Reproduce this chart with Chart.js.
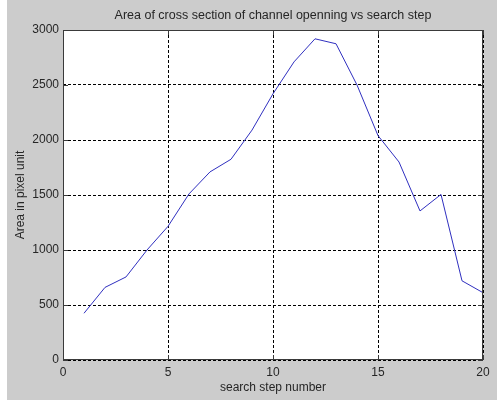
<!DOCTYPE html>
<html>
<head>
<meta charset="utf-8">
<script src="https://cdn.jsdelivr.net/npm/chart.js@4.4.0/dist/chart.umd.min.js"></script>
<style>
  html, body { margin: 0; padding: 0; background: #cccccc; }
  #wrap { width: 497px; height: 400px; }
</style>
</head>
<body>
<div id="wrap"><canvas id="chart" width="497" height="400"></canvas></div>
<script>
// search step number vs area
const steps = [1, 2, 3, 4, 5, 6, 7, 8, 9, 10, 11, 12, 13, 14, 15, 16, 17, 18, 19, 20];
const areas = [425, 660, 755, 1000, 1215, 1510, 1710, 1825, 2090, 2420, 2710, 2920, 2875, 2500, 2040, 1800, 1355, 1505, 720, 612];
const xTicks = [0, 5, 10, 15, 20];
const yTicks = [0, 500, 1000, 1500, 2000, 2500, 3000];

const font = { family: 'Arial, "Liberation Sans", Helvetica, sans-serif', size: 12 };
const textColor = '#262626';

// grey figure, white axes box with inward ticks like matlab
const frame = {
    id: 'frame',
    beforeDraw(chart) {
        const { ctx, chartArea: a } = chart;
        ctx.save();
        ctx.fillStyle = '#cccccc';
        ctx.fillRect(0, 0, chart.width, chart.height);
        ctx.fillStyle = '#ffffff';
        ctx.fillRect(0, 0, 7, chart.height);
        ctx.fillRect(a.left, a.top, a.right - a.left, a.bottom - a.top);
        ctx.restore();
    },
    afterDraw(chart) {
        const { ctx, chartArea: a, scales } = chart;
        ctx.save();
        ctx.strokeStyle = '#3a3a3a';
        ctx.lineWidth = 1;
        ctx.strokeRect(a.left + 0.5, a.top + 0.5, a.right - a.left - 1, a.bottom - a.top - 1);
        ctx.beginPath();
        xTicks.forEach(v => {
            const x = Math.round(scales.x.getPixelForValue(v)) + 0.5;
            ctx.moveTo(x, a.bottom); ctx.lineTo(x, a.bottom - 5);
            ctx.moveTo(x, a.top); ctx.lineTo(x, a.top + 5);
        });
        yTicks.forEach(v => {
            const y = Math.round(scales.y.getPixelForValue(v)) + 0.5;
            ctx.moveTo(a.left, y); ctx.lineTo(a.left + 5, y);
            ctx.moveTo(a.right, y); ctx.lineTo(a.right - 5, y);
        });
        ctx.stroke();
        ctx.restore();
    }
};

new Chart(document.getElementById('chart'), {
    type: 'line',
    data: {
        datasets: [{
            data: steps.map((s, i) => ({ x: s, y: areas[i] })),
            borderColor: '#3030c0',
            borderWidth: 1,
            pointRadius: 0,
            tension: 0,
            fill: false
        }]
    },
    options: {
        responsive: false,
        animation: false,
        layout: { padding: { left: 0, right: 14, top: 0, bottom: 0 } },
        plugins: {
            legend: { display: false },
            tooltip: { enabled: false },
            title: {
                display: true,
                fullSize: false,
                text: 'Area of cross section of channel openning vs search step',
                color: textColor,
                font: { ...font, size: 12.5, weight: 'normal' },
                padding: { top: 8, bottom: 7 }
            }
        },
        scales: {
            x: {
                type: 'linear',
                min: 0,
                max: 20,
                afterFit: s => { s.height = 40; },
                afterBuildTicks: s => { s.ticks = xTicks.map(v => ({ value: v })); },
                ticks: { color: textColor, font, padding: 5, maxRotation: 0, callback: v => String(v) },
                grid: { color: '#000000', lineWidth: 1, drawTicks: false },
                border: { display: false, dash: [3, 2] },
                title: {
                    display: true,
                    text: 'search step number',
                    color: textColor,
                    font,
                    padding: { top: 0, bottom: 5 }
                }
            },
            y: {
                type: 'linear',
                min: 0,
                max: 3000,
                afterFit: s => { s.width = 63; },
                afterBuildTicks: s => { s.ticks = yTicks.map(v => ({ value: v })); },
                ticks: { color: textColor, font, padding: 4, callback: v => String(v) },
                grid: { color: '#000000', lineWidth: 1, drawTicks: false },
                border: { display: false, dash: [3, 2] },
                title: {
                    display: true,
                    text: 'Area in pixel unit',
                    color: textColor,
                    font,
                    padding: { top: 13, bottom: 0 }
                }
            }
        }
    },
    plugins: [frame]
});
</script>
</body>
</html>
